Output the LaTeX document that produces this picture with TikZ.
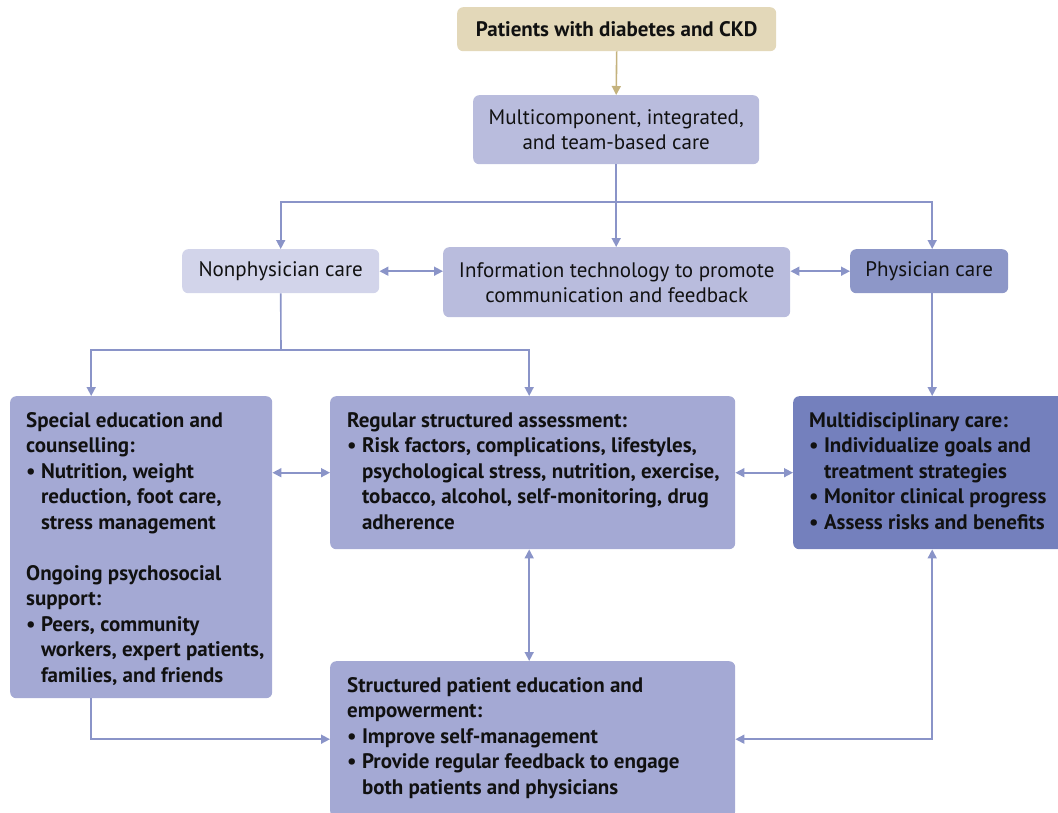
\documentclass[tikz,border=0pt]{standalone}
\usepackage{fontspec}
\setmainfont{PT Sans}
\usetikzlibrary{arrows.meta,calc}
\definecolor{beige}{HTML}{E3D8B9}
\definecolor{beigeline}{HTML}{C4B27D}
\definecolor{midblue}{HTML}{B9BCDD}
\definecolor{lightblue}{HTML}{D2D4EA}
\definecolor{physblue}{HTML}{8D97C8}
\definecolor{bigblue}{HTML}{A4A9D4}
\definecolor{darkblue}{HTML}{7480BD}
\definecolor{linecol}{HTML}{8A94C8}
\definecolor{txtcol}{HTML}{111111}
\newcommand{\ind}{\hphantom{\textbullet\ }}
\begin{document}
\begin{tikzpicture}[x=1pt,y=-1pt,
  boxshape/.style={rounded corners=6pt, inner sep=0pt, anchor=north west, draw=none},
  txt/.style={font=\fontsize{21}{25.5}\selectfont, text=txtcol, inner sep=0pt, align=left},
  btxt/.style={txt, font=\fontsize{21}{25.5}\selectfont\bfseries, anchor=north west},
  conn/.style={draw=linecol, line width=1.6pt, -{Triangle[length=9pt,width=9pt]}},
  conn2/.style={draw=linecol, line width=1.6pt, {Triangle[length=9pt,width=9pt]}-{Triangle[length=9pt,width=9pt]}}
]
\useasboundingbox (0,0) rectangle (1058,812);
\begin{scope}
\clip (0,0) rectangle (1058,812);
% top row
\node[boxshape, fill=beige, minimum width=319pt, minimum height=44pt, font=\fontsize{21}{25.5}\selectfont\bfseries, text=txtcol] (top) at (457,7) {Patients with diabetes and CKD};
\node[boxshape, fill=midblue, minimum width=286pt, minimum height=69pt, font=\fontsize{21}{25}\selectfont, text=txtcol, align=center] (multi) at (473,95) {Multicomponent, integrated,\\and team-based care};
\node[boxshape, fill=lightblue, minimum width=197pt, minimum height=44pt, font=\fontsize{21}{25.5}\selectfont, text=txtcol] (nonphys) at (182,249) {Nonphysician care};
\node[boxshape, fill=midblue, minimum width=347pt, minimum height=70pt, font=\fontsize{21}{25}\selectfont, text=txtcol, align=center] (it) at (443,247) {Information technology to promote\\communication and feedback};
\node[boxshape, fill=physblue, minimum width=158pt, minimum height=44pt, font=\fontsize{21}{25.5}\selectfont, text=txtcol] (phys) at (850,249) {Physician care};
% big boxes
\node[boxshape, fill=bigblue, minimum width=262pt, minimum height=302pt] (left) at (10,396) {};
\node[btxt] (lefttxt) at ([shift={(16pt,-16pt)}]left.north west) {Special education and\\counselling:\\\textbullet\ Nutrition, weight\\\ind reduction, foot care,\\\ind stress management\\[25.5pt]Ongoing psychosocial\\support:\\\textbullet\ Peers, community\\\ind workers, expert patients,\\\ind families, and friends};
\node[boxshape, fill=bigblue, minimum width=405pt, minimum height=153pt] (mid) at (330,396) {};
\node[btxt] (midtxt) at ([shift={(17pt,-16pt)}]mid.north west) {Regular structured assessment:\\\textbullet\ Risk factors, complications, lifestyles,\\\ind psychological stress, nutrition, exercise,\\\ind tobacco, alcohol, self-monitoring, drug\\\ind adherence};
\node[boxshape, fill=darkblue, minimum width=275pt, minimum height=153pt] (right) at (793,396) {};
\node[btxt] (righttxt) at ([shift={(16pt,-16pt)}]right.north west) {Multidisciplinary care:\\\textbullet\ Individualize goals and\\\ind treatment strategies\\\textbullet\ Monitor clinical progress\\\textbullet\ Assess risks and benefits};
\node[boxshape, fill=bigblue, minimum width=405pt, minimum height=156pt] (bottom) at (330,661) {};
\node[btxt] (bottomtxt) at ([shift={(17pt,-16pt)}]bottom.north west) {Structured patient education and\\empowerment:\\\textbullet\ Improve self-management\\\textbullet\ Provide regular feedback to engage\\\ind both patients and physicians};
\end{scope}
% connectors
\draw[conn, draw=beigeline, -{Triangle[length=9pt,width=9pt,fill=beigeline]}] (top.south) -- (multi.south |- multi.north);
\coordinate (j1) at (616,202);
\draw[conn] (multi.south) -- (multi.south |- it.north);
\draw[conn] (j1) -| (nonphys.north);
\draw[conn] (j1) -| ([xshift=3pt]phys.north);
\draw[conn2] (nonphys.east) -- (nonphys.east -| it.west);
\draw[conn2] (phys.west) -- (phys.west -| it.east);
\coordinate (j2) at (281,350);
\draw[draw=linecol, line width=1.6pt] (nonphys.south) -- (j2);
\draw[conn] (j2) -| ([xshift=-50pt]left.north);
\draw[conn] (j2) -| ([xshift=-3.5pt]mid.north);
\draw[conn] ([xshift=3pt]phys.south) -- ([xshift=3pt]phys.south |- right.north);
\draw[conn2] (left.east |- mid.west) -- (mid.west);
\draw[conn2] (mid.east) -- (right.west);
\draw[conn2] ([xshift=-3.5pt]mid.south) -- ([xshift=-3.5pt]bottom.north);
\draw[conn] ([xshift=-50pt]left.south) |- (bottom.west);
\draw[conn2] ([xshift=3pt]phys.south |- right.south) |- (bottom.east);
\end{tikzpicture}
\end{document}
